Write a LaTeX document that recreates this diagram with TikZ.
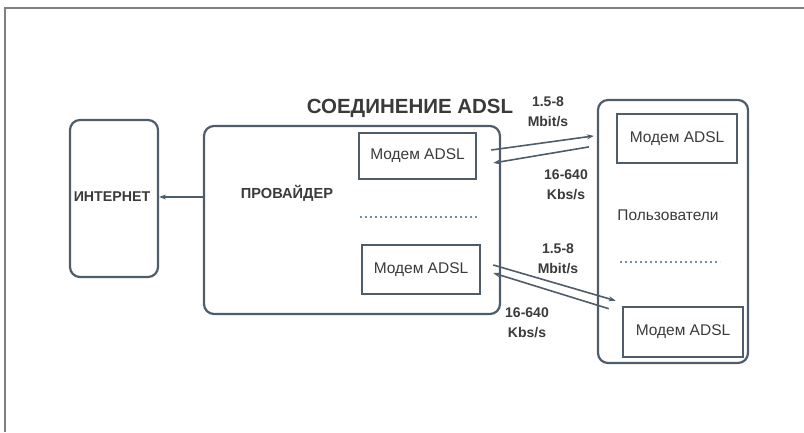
\documentclass[tikz,border=0pt]{standalone}
\usepackage{fontspec}
\setmainfont{Liberation Sans}
\usetikzlibrary{arrows.meta,calc}
\definecolor{edge}{HTML}{4E5D69}
\definecolor{ink}{HTML}{3A3A3A}
\definecolor{dotc}{HTML}{6F8DB5}
\begin{document}
\begin{tikzpicture}[x=1pt,y=-1pt,
  bigbox/.style={draw=edge,line width=2.2pt,rounded corners=10pt,inner sep=0pt},
  modembox/.style={draw=edge,line width=2.6pt,inner sep=0pt,text=ink,font=\fontsize{15.5}{18}\selectfont},
  lbl/.style={text=ink,font=\fontsize{14}{16}\selectfont},
  speed/.style={text=ink,align=center,font=\bfseries\fontsize{14}{20}\selectfont},
  link/.style={draw=edge,line width=1.6pt},
  tip/.style={-{Stealth[length=7pt,width=5pt]}},
  dotline/.style={draw=dotc,line width=1.6pt,dash pattern=on 2pt off 3pt}]
\useasboundingbox (0,0) rectangle (804,432);
\draw[gray,line width=1.5pt] (5,432) -- (5,8) -- (804,8);
% boxes
\node[bigbox,minimum width=88pt,minimum height=157pt] (inet) at (114,198.5) {};
\node[lbl,font=\bfseries\fontsize{14.2}{16}\selectfont] (inettxt) at (112,197) {ИНТЕРНЕТ};
\node[bigbox,minimum width=296pt,minimum height=188pt] (prov) at (352,220) {};
\node[lbl,font=\bfseries\fontsize{14.6}{16}\selectfont] (provtxt) at (287,193) {ПРОВАЙДЕР};
\node[modembox,minimum width=117pt,minimum height=46pt] (m1) at (417.5,156) {Модем ADSL};
\node[modembox,minimum width=118pt,minimum height=49pt] (m2) at (421,269.5) {Модем ADSL};
\node[bigbox,minimum width=150pt,minimum height=263pt] (users) at (673,231.5) {};
\node[modembox,minimum width=120pt,minimum height=49pt] (u1) at (677,138.5) {Модем ADSL};
\node[modembox,minimum width=120pt,minimum height=50pt] (u2) at (683,332) {Модем ADSL};
\node[lbl,font=\fontsize{15.5}{17}\selectfont] (userstxt) at (668,215) {Пользователи};
% title
\node[text=ink,font=\bfseries\fontsize{20.5}{22}\selectfont] (title) at (410,108) {СОЕДИНЕНИЕ ADSL};
% dotted lines
\coordinate (d1a) at (360,217); \coordinate (d1b) at (478,217);
\coordinate (d2a) at (620,262); \coordinate (d2b) at (720,262);
\draw[dotline] (d1a) -- (d1b);
\draw[dotline] (d2a) -- (d2b);
% internet link
\draw[link,tip] ([yshift=23pt]prov.west) -- ([yshift=1.5pt]inet.east);
% upper links
\draw[link,tip] ([xshift=14pt,yshift=6pt]m1.east) -- ([xshift=-3pt,yshift=-37pt]users.north west);
\draw[link,tip] ([xshift=-8pt,yshift=-48pt]users.north west) -- ([xshift=16pt,yshift=-7pt]m1.east);
% lower links
\draw[link,tip] ([xshift=12pt,yshift=4.5pt]m2.east) -- ([xshift=-6pt,yshift=5pt]u2.north west);
\draw[link,tip] ([xshift=-13pt,yshift=-3pt]u2.north west) -- ([xshift=12pt,yshift=-3.5pt]m2.east);
% speed labels
\node[speed] (s1) at (548,112) {1.5-8\\Mbit/s};
\node[speed] (s2) at (566,185) {16-640\\Kbs/s};
\node[speed] (s3) at (558,259) {1.5-8\\Mbit/s};
\node[speed] (s4) at (527,323) {16-640\\Kbs/s};
\end{tikzpicture}
\end{document}
